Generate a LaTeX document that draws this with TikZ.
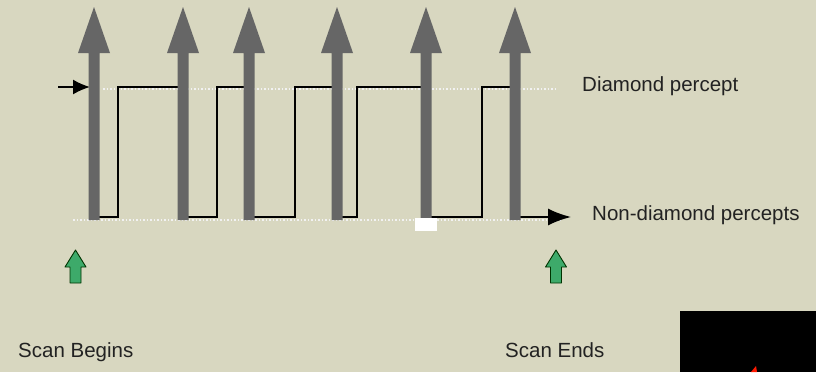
\documentclass[tikz,border=0pt]{standalone}
\usepackage{fontspec}
\setmainfont{Liberation Sans}
\usetikzlibrary{arrows.meta}
\definecolor{bg}{HTML}{D8D7C0}
\definecolor{pulse}{HTML}{666666}
\definecolor{greenup}{HTML}{3DAA6A}
\definecolor{txt}{HTML}{222222}
\tikzset{
  label/.style={font=\fontsize{20.5}{24}\selectfont, text=txt, anchor=base west, inner sep=0pt},
  guide/.style={draw=white!90!gray, line width=1.2pt, dash pattern=on 1.5pt off 2pt},
  wave/.style={draw=black, line width=1.7pt},
}
\newcommand{\grayarrow}[1]{%
  \fill[pulse] (#1-5.5,220) -- (#1-5.5,53) -- (#1-16,53) -- (#1,7) -- (#1+16,53) -- (#1+5.5,53) -- (#1+5.5,220) -- cycle;}
\newcommand{\greenarrow}[1]{%
  \filldraw[fill=greenup, draw=black!80!green, line width=0.9pt, line join=round]
  (#1-5.5,283) -- (#1-5.5,267) -- (#1-10.5,267) -- (#1,250) -- (#1+10.5,267) -- (#1+5.5,267) -- (#1+5.5,283) -- cycle;}
\begin{document}
\begin{tikzpicture}[x=1pt,y=-1pt]
\useasboundingbox (0,0) rectangle (816,372);
\fill[bg] (0,0) rectangle (816,372);
% guide dotted lines
\draw[guide] (103,89) -- (557,89);
\draw[guide] (73,220) -- (560,220);
% entry arrow
\coordinate (in0) at (58,87);
\coordinate (in1) at (90,87);
\draw[wave,-{Latex[length=17pt,width=15pt]}] (in0) -- (in1);
% square wave
\coordinate (wstart) at (94,87);
\coordinate (wend) at (571,217);
\draw[wave,line join=miter,-{Latex[length=23pt,width=17pt]}] (wstart) -- (94,217) -- (118,217) -- (118,87) -- (183,87) -- (183,217) -- (217,217) -- (217,87) -- (249,87) -- (249,217) -- (295,217) -- (295,87) -- (337,87) -- (337,217) -- (357,217) -- (357,87) -- (426,87) -- (426,217) -- (482,217) -- (482,87) -- (515,87) -- (515,217) -- (wend);
% gray arrows
\grayarrow{94}
\grayarrow{183}
\grayarrow{249}
\grayarrow{337}
\grayarrow{426}
\grayarrow{515}
% white mark
\fill[white] (415,218) rectangle (437,231);
% green arrows
\greenarrow{75.5}
\greenarrow{556}
% labels
\node[label] (dia) at (582,91) {Diamond percept};
\node[label] (non) at (592,220) {Non-diamond percepts};
\node[label] (beg) at (18,357) {Scan Begins};
\node[label] (end) at (505,357) {Scan Ends};
% black box corner
\fill[black] (680,311) rectangle (816,372);
\fill[red!80!orange] (751,372) -- (756,366) -- (757,372) -- cycle;
\end{tikzpicture}
\end{document}
